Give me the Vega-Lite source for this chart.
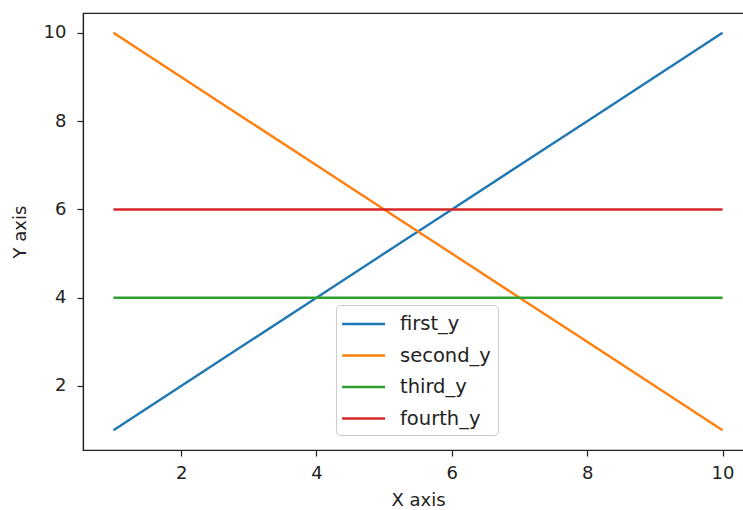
{
  "$schema": "https://vega.github.io/schema/vega-lite/v6.json",
  "autosize": "none",
  "width": 670,
  "height": 437,
  "padding": {"left": 83, "top": 13, "right": 0, "bottom": 60},
  "background": "white",
  "config": {
    "font": "DejaVu Sans",
    "view": {"stroke": "#222222", "strokeWidth": 1.2},
    "axis": {
      "grid": false,
      "domainColor": "#222222",
      "domainWidth": 1.2,
      "tickColor": "#222222",
      "tickSize": 6,
      "tickWidth": 1.2,
      "labelFont": "DejaVu Sans",
      "labelFontSize": 18,
      "labelColor": "#222222",
      "titleFont": "DejaVu Sans",
      "titleFontSize": 18,
      "titleFontWeight": "normal",
      "titleColor": "#222222"
    }
  },
  "data": {
    "values": [
      {"x": 1, "y": 1, "series": "first_y"},
      {"x": 2, "y": 2, "series": "first_y"},
      {"x": 3, "y": 3, "series": "first_y"},
      {"x": 4, "y": 4, "series": "first_y"},
      {"x": 5, "y": 5, "series": "first_y"},
      {"x": 6, "y": 6, "series": "first_y"},
      {"x": 7, "y": 7, "series": "first_y"},
      {"x": 8, "y": 8, "series": "first_y"},
      {"x": 9, "y": 9, "series": "first_y"},
      {"x": 10, "y": 10, "series": "first_y"},
      {"x": 1, "y": 10, "series": "second_y"},
      {"x": 2, "y": 9, "series": "second_y"},
      {"x": 3, "y": 8, "series": "second_y"},
      {"x": 4, "y": 7, "series": "second_y"},
      {"x": 5, "y": 6, "series": "second_y"},
      {"x": 6, "y": 5, "series": "second_y"},
      {"x": 7, "y": 4, "series": "second_y"},
      {"x": 8, "y": 3, "series": "second_y"},
      {"x": 9, "y": 2, "series": "second_y"},
      {"x": 10, "y": 1, "series": "second_y"},
      {"x": 1, "y": 4, "series": "third_y"},
      {"x": 2, "y": 4, "series": "third_y"},
      {"x": 3, "y": 4, "series": "third_y"},
      {"x": 4, "y": 4, "series": "third_y"},
      {"x": 5, "y": 4, "series": "third_y"},
      {"x": 6, "y": 4, "series": "third_y"},
      {"x": 7, "y": 4, "series": "third_y"},
      {"x": 8, "y": 4, "series": "third_y"},
      {"x": 9, "y": 4, "series": "third_y"},
      {"x": 10, "y": 4, "series": "third_y"},
      {"x": 1, "y": 6, "series": "fourth_y"},
      {"x": 2, "y": 6, "series": "fourth_y"},
      {"x": 3, "y": 6, "series": "fourth_y"},
      {"x": 4, "y": 6, "series": "fourth_y"},
      {"x": 5, "y": 6, "series": "fourth_y"},
      {"x": 6, "y": 6, "series": "fourth_y"},
      {"x": 7, "y": 6, "series": "fourth_y"},
      {"x": 8, "y": 6, "series": "fourth_y"},
      {"x": 9, "y": 6, "series": "fourth_y"},
      {"x": 10, "y": 6, "series": "fourth_y"}
    ]
  },
  "mark": {"type": "line", "strokeWidth": 2.4, "clip": true},
  "encoding": {
    "x": {
      "field": "x",
      "type": "quantitative",
      "scale": {"domain": [0.55, 10.45], "nice": false, "zero": false},
      "axis": {"values": [2, 4, 6, 8, 10], "title": "X axis", "labelPadding": 8, "titlePadding": 9}
    },
    "y": {
      "field": "y",
      "type": "quantitative",
      "scale": {"domain": [0.55, 10.45], "nice": false, "zero": false},
      "axis": {"values": [2, 4, 6, 8, 10], "title": "Y axis", "labelPadding": 11, "titlePadding": 14}
    },
    "color": {
      "field": "series",
      "type": "nominal",
      "scale": {
        "domain": ["first_y", "second_y", "third_y", "fourth_y"],
        "range": ["#1f77b4", "#ff7f0e", "#2ca02c", "#d62728"]
      },
      "legend": {
        "title": null,
        "orient": "none",
        "legendX": 253,
        "legendY": 292,
        "symbolType": "M-1.2,0H2.8",
        "symbolSize": 462,
        "symbolStrokeWidth": 2.4,
        "labelFontSize": 19.5,
        "labelFont": "DejaVu Sans",
        "labelColor": "#222222",
        "labelOffset": 33,
        "rowPadding": 9.5,
        "padding": 7,
        "strokeColor": "#cccccc",
        "cornerRadius": 4,
        "fillColor": "white"
      }
    }
  }
}
